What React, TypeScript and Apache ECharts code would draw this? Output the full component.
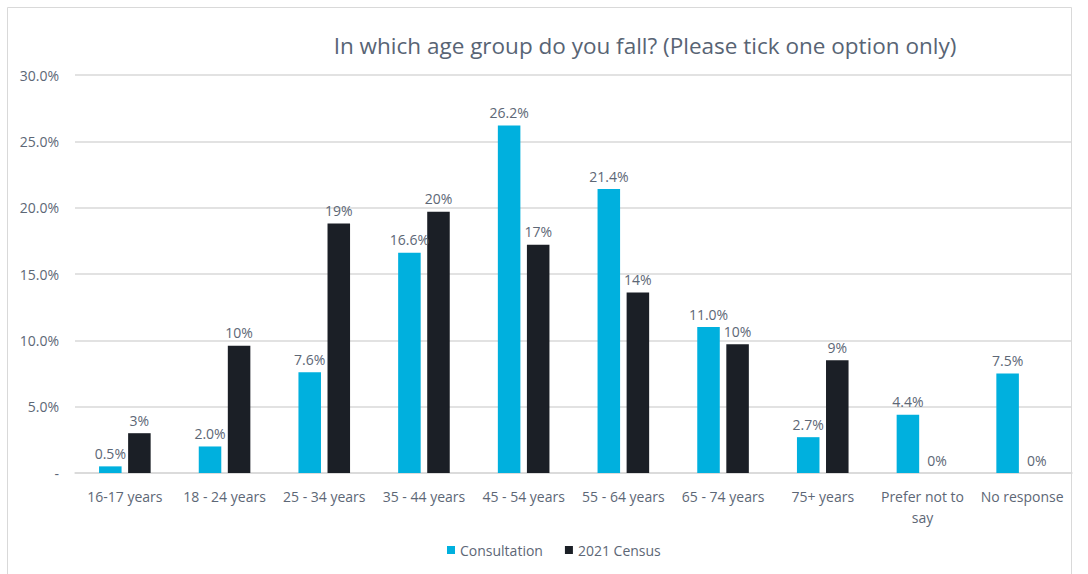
import React, { useEffect, useRef } from "react";
import * as echarts from "echarts";

const categories = [
  "16-17 years",
  "18 - 24 years",
  "25 - 34 years",
  "35 - 44 years",
  "45 - 54 years",
  "55 - 64 years",
  "65 - 74 years",
  "75+ years",
  "Prefer not to say",
  "No response",
];
const consultation = [0.5, 2.0, 7.6, 16.6, 26.2, 21.4, 11.0, 2.7, 4.4, 7.5];
const census2021 = [3.0, 9.6, 18.8, 19.7, 17.2, 13.6, 9.7, 8.5, 0, 0];
const seriesNames = ["Consultation", "2021 Census"];
const titleText = "In which age group do you fall? (Please tick one option only)";

const FONT = "'Open Sans', Lato, sans-serif";
const TEXT = "#5d6776";

export default function App() {
  const ref = useRef<HTMLDivElement>(null);
  useEffect(() => {
    if (!ref.current) return;
    const chart = echarts.init(ref.current, null, { renderer: "svg" });
    chart.setOption({
      animation: false,
      backgroundColor: "#ffffff",
      textStyle: { fontFamily: FONT },
      title: {
        text: titleText,
        left: 640,
        top: 29,
        textAlign: "center",
        textStyle: { fontFamily: FONT, fontSize: 22.5, fontWeight: "normal", color: "#586474" },
      },
      graphic: [
        {
          type: "rect",
          shape: { x: 7.5, y: 7.5, width: 1064, height: 580 },
          style: { fill: "none", stroke: "#d9d9d9", lineWidth: 1 },
          silent: true,
        },
      ],
      legend: {
        bottom: 12,
        left: 442,
        itemWidth: 8,
        itemHeight: 8,
        itemGap: 22,
        icon: "rect",
        textStyle: { fontFamily: FONT, fontSize: 14, color: TEXT },
        data: seriesNames,
      },
      grid: { left: 75, right: 16, top: 75, bottom: 101 },
      xAxis: {
        type: "category",
        data: categories,
        axisLine: { lineStyle: { color: "#d9d9d9", width: 1.5 } },
        axisTick: { show: false },
        axisLabel: {
          color: TEXT,
          fontSize: 14,
          fontFamily: FONT,
          margin: 13,
          interval: 0,
          lineHeight: 21,
          formatter: (v: string) => (v === "Prefer not to say" ? "Prefer not to\nsay" : v),
        },
      },
      yAxis: {
        type: "value",
        min: 0,
        max: 30,
        interval: 5,
        axisLine: { show: false },
        axisTick: { show: false },
        splitLine: { lineStyle: { color: "#d9d9d9", width: 1.5 } },
        axisLabel: {
          color: TEXT,
          fontSize: 14,
          fontFamily: FONT,
          margin: 16,
          formatter: (v: number) => (v === 0 ? "-" : v.toFixed(1) + "%"),
        },
      },
      series: [
        {
          name: seriesNames[0],
          type: "bar",
          data: consultation,
          barWidth: "22.6%",
          barGap: "29%",
          itemStyle: { color: "#00b0de" },
          label: {
            show: true,
            position: "top",
            distance: 6,
            color: TEXT,
            fontSize: 14,
            fontFamily: FONT,
            formatter: (p: any) => p.value.toFixed(1) + "%",
          },
        },
        {
          name: seriesNames[1],
          type: "bar",
          data: census2021,
          barWidth: "22.6%",
          itemStyle: { color: "#1b1f26" },
          label: {
            show: true,
            position: "top",
            distance: 6,
            color: TEXT,
            fontSize: 14,
            fontFamily: FONT,
            formatter: (p: any) => Math.round(p.value) + "%",
          },
        },
      ],
    });
    return () => chart.dispose();
  }, []);
  return (
    <div
      ref={ref}
      style={{ position: "fixed", left: 0, top: 0, width: 1088, height: 574 }}
    />
  );
}
